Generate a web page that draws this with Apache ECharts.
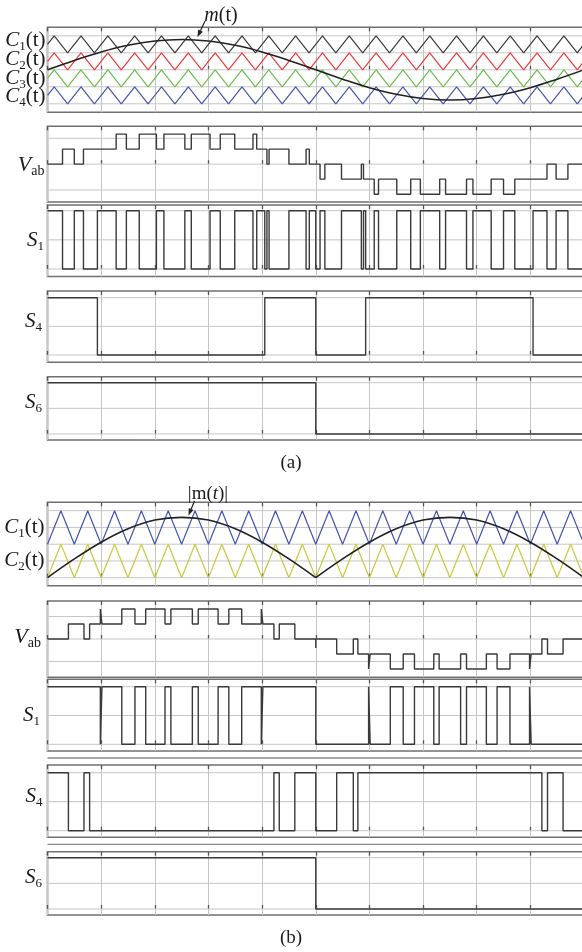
<!DOCTYPE html>
<html><head><meta charset="utf-8">
<script src="https://cdn.jsdelivr.net/npm/echarts@6/dist/echarts.min.js"></script>
<style>html,body{margin:0;padding:0;background:#fff}#c{width:582px;height:952px}</style>
</head><body><div id="c"></div>
<script>
// ---------- DATA (x in grid divisions 0..10) ----------
// (a) phase-disposition carriers: vertex times and levels
const carrierTimesA = [0,0.125,0.375,0.625,0.875,1.125,1.375,1.625,1.875,2.125,2.375,2.625,2.875,3.125,3.375,3.625,3.875,4.125,4.375,4.625,4.875,5.125,5.375,5.625,5.875,6.125,6.375,6.625,6.875,7.125,7.375,7.625,7.875,8.125,8.375,8.625,8.875,9.125,9.375,9.625,9.875,10];
const c1A = [1.5,2,1,2,1,2,1,2,1,2,1,2,1,2,1,2,1,2,1,2,1,2,1,2,1,2,1,2,1,2,1,2,1,2,1,2,1,2,1,2,1,1.5];
const c2A = [0.5,1,0,1,0,1,0,1,0,1,0,1,0,1,0,1,0,1,0,1,0,1,0,1,0,1,0,1,0,1,0,1,0,1,0,1,0,1,0,1,0,0.5];
const c3A = [-0.5,0,-1,0,-1,0,-1,0,-1,0,-1,0,-1,0,-1,0,-1,0,-1,0,-1,0,-1,0,-1,0,-1,0,-1,0,-1,0,-1,0,-1,0,-1,0,-1,0,-1,-0.5];
const c4A = [-1.5,-1,-2,-1,-2,-1,-2,-1,-2,-1,-2,-1,-2,-1,-2,-1,-2,-1,-2,-1,-2,-1,-2,-1,-2,-1,-2,-1,-2,-1,-2,-1,-2,-1,-2,-1,-2,-1,-2,-1,-2,-1.5];
// (a) modulating wave m(t)
const mTimesA = [0,0.5,1,1.5,2,2.5,3,3.5,4,4.5,5,5.5,6,6.5,7,7.5,8,8.5,9,9.5,10];
const mA = [0,0.55,1.05,1.44,1.69,1.78,1.69,1.44,1.05,0.55,0,-0.55,-1.05,-1.44,-1.69,-1.78,-1.69,-1.44,-1.05,-0.55,0];
// (a) step waveforms: [time, level]
const vabA = [[0,0],[0.28,1],[0.50,0],[0.67,1],[1.28,2],[1.47,1],[1.71,2],[2.03,1],[2.17,2],[2.56,1],[2.68,2],[3.03,1],[3.22,2],[3.49,1],[3.83,2],[3.90,1],[4.09,0],[4.13,1],[4.50,0],[4.82,1],[4.88,0],[5.08,-1],[5.17,0],[5.48,-1],[5.85,0],[5.89,-1],[6.09,-2],[6.17,-1],[6.51,-2],[6.77,-1],[6.95,-2],[7.31,-1],[7.42,-2],[7.81,-1],[7.93,-2],[8.27,-1],[8.50,-2],[8.71,-1],[9.31,0],[9.48,-1],[9.70,0],[10,0]];
const s1A = [[0,1],[0.28,0],[0.50,1],[0.67,0],[0.93,1],[1.28,0],[1.47,1],[1.71,0],[2.03,1],[2.17,0],[2.56,1],[2.68,0],[3.03,1],[3.22,0],[3.49,1],[3.83,0],[3.90,1],[4.05,0],[4.09,1],[4.13,0],[4.50,1],[4.82,0],[4.88,1],[5.00,0],[5.08,1],[5.17,0],[5.48,1],[5.85,0],[5.89,1],[5.93,0],[6.09,1],[6.17,0],[6.51,1],[6.77,0],[6.95,1],[7.31,0],[7.42,1],[7.81,0],[7.93,1],[8.27,0],[8.50,1],[8.71,0],[9.05,1],[9.31,0],[9.48,1],[9.70,0],[10,0]];
const s4A = [[0,1],[0.93,0],[4.05,1],[5.00,0],[5.93,1],[9.05,0],[10,0]];
const s6A = [[0,1],[5,0],[10,0]];
// (b) carriers
const carrierTimesB = [0,0.25,0.5,0.75,1,1.25,1.5,1.75,2,2.25,2.5,2.75,3,3.25,3.5,3.75,4,4.25,4.5,4.75,5,5.25,5.5,5.75,6,6.25,6.5,6.75,7,7.25,7.5,7.75,8,8.25,8.5,8.75,9,9.25,9.5,9.75,10];
const c1B = [0.5,1,0.5,1,0.5,1,0.5,1,0.5,1,0.5,1,0.5,1,0.5,1,0.5,1,0.5,1,0.5,1,0.5,1,0.5,1,0.5,1,0.5,1,0.5,1,0.5,1,0.5,1,0.5,1,0.5,1,0.5];
const c2B = [0,0.5,0,0.5,0,0.5,0,0.5,0,0.5,0,0.5,0,0.5,0,0.5,0,0.5,0,0.5,0,0.5,0,0.5,0,0.5,0,0.5,0,0.5,0,0.5,0,0.5,0,0.5,0,0.5,0,0.5,0];
// (b) |m(t)|, two half cycles
const mTimesB1 = [0,0.5,1,1.5,2,2.5,3,3.5,4,4.5,5];
const mB1 = [0,0.28,0.53,0.73,0.86,0.9,0.86,0.73,0.53,0.28,0];
const mTimesB2 = [5,5.5,6,6.5,7,7.5,8,8.5,9,9.5,10];
const mB2 = [0,0.28,0.53,0.73,0.86,0.9,0.86,0.73,0.53,0.28,0];
// (b) step waveforms
const vabB = [[0,0],[0.39,1],[0.68,0],[0.785,1],[0.985,2],[1.015,1],[1.385,2],[1.63,1],[1.83,2],[2.19,1],[2.30,2],[2.70,1],[2.81,2],[3.18,1],[3.38,2],[3.62,1],[3.985,2],[4.015,1],[4.22,0],[4.32,1],[4.61,0],[5.0,-0.6],[5.0,0],[5.39,-1],[5.70,0],[5.785,-1],[5.985,-2],[6.015,-1],[6.39,-2],[6.63,-1],[6.84,-2],[7.20,-1],[7.30,-2],[7.70,-1],[7.81,-2],[8.18,-1],[8.38,-2],[8.62,-1],[8.985,-2],[9.015,-1],[9.215,0],[9.32,-1],[9.61,0],[10,0]];
const s1B = [[0,1],[0.985,0],[1.015,1],[1.385,0],[1.63,1],[1.83,0],[2.19,1],[2.30,0],[2.70,1],[2.81,0],[3.18,1],[3.38,0],[3.62,1],[3.985,0],[4.015,1],[5.0,0],[5.985,1],[6.015,0],[6.39,1],[6.63,0],[6.84,1],[7.20,0],[7.30,1],[7.70,0],[7.81,1],[8.18,0],[8.38,1],[8.62,0],[8.985,1],[9.015,0],[10,0]];
const s4B = [[0,1],[0.39,0],[0.68,1],[0.785,0],[4.22,1],[4.32,0],[4.61,1],[5.0,0],[5.39,1],[5.70,0],[5.785,1],[9.215,0],[9.32,1],[9.61,0],[10,0]];
const s6B = [[0,1],[5,0],[10,0]];
// horizontal grid-line positions per panel
const hGridA1 = [-2,-1,0,1,2];
const hGridVabA = [-1.72,0,1.72];
const hGridSw = [0,0.5,1];
const hGridB1 = [0,0.25,0.5,0.75,1];
const hGridVabB = [-1.5,0,1.5];

// ---------- LAYOUT ----------
const SERIF = '"Liberation Serif","DejaVu Serif",serif';
const GL = 47.5, GW = 536.5;
const panels = [
  {top:27.3, h:85,   min:-2.5,   max:2.5,   hl:hGridA1},
  {top:126.3,h:75.7, min:-2.52,  max:2.52,  hl:hGridVabA},
  {top:205,  h:71.5, min:-0.129, max:1.098, hl:hGridSw},
  {top:291,  h:71.3, min:-0.127, max:1.117, hl:hGridSw},
  {top:376.7,h:63.3, min:-0.117, max:1.117, hl:hGridSw},
  {top:502.3,h:83.4, min:-0.119, max:1.125, hl:hGridB1},
  {top:601,  h:76.3, min:-2.55,  max:2.53,  hl:hGridVabB},
  {top:679.3,h:71.7, min:-0.116, max:1.128, hl:hGridSw},
  {top:765,  h:72.3, min:-0.114, max:1.133, hl:hGridSw},
  {top:851.7,h:63.3, min:-0.117, max:1.117, hl:hGridSw}
];

const grid = [], xAxis = [], yAxis = [], series = [];
panels.forEach((p, g) => {
  grid.push({left:GL, width:GW, top:p.top, height:p.h, show:true, borderColor:'#707070', borderWidth:1.6,
    backgroundColor:'transparent', containLabel:false, outerBoundsMode:'none'});
  const tick = {show:true, inside:true, length:4, lineStyle:{color:'#555', width:1.3}};
  xAxis.push({gridIndex:g, type:'value', min:0, max:10, interval:1, position:'bottom',
    axisLine:{show:false}, axisLabel:{show:false}, axisTick:tick,
    splitLine:{show:true, lineStyle:{color:'#c6c6c6', width:1}}});
  xAxis.push({gridIndex:g, type:'value', min:0, max:10, interval:1, position:'top',
    axisLine:{show:false}, axisLabel:{show:false}, axisTick:tick, splitLine:{show:false}});
  yAxis.push({gridIndex:g, type:'value', min:p.min, max:p.max,
    axisLine:{show:false}, axisLabel:{show:false}, axisTick:{show:false}, splitLine:{show:false}});
  p.hl.forEach(v => series.push({type:'line', xAxisIndex:2*g, yAxisIndex:g, data:[[0,v],[10,v]],
    symbol:'none', silent:true, z:1, lineStyle:{color:'#c6c6c6', width:1}}));
});

function zip(ts, vs){ return ts.map((t,i)=>[t, vs[i]]); }
function carrier(g, ts, vs, color){
  series.push({type:'line', xAxisIndex:2*g, yAxisIndex:g, data:zip(ts,vs), symbol:'none', silent:true, z:2,
    lineStyle:{color:color, width:1.2}});
}
function smoothLine(g, ts, vs){
  series.push({type:'line', xAxisIndex:2*g, yAxisIndex:g, data:zip(ts,vs), symbol:'none', silent:true, z:4,
    smooth:0.4, lineStyle:{color:'#222', width:1.6}});
}
function stepLine(g, d){
  series.push({type:'line', xAxisIndex:2*g, yAxisIndex:g, data:d, step:'end', symbol:'none', silent:true, z:3,
    lineStyle:{color:'#3a3a3a', width:1.4}});
}

carrier(0, carrierTimesA, c1A, '#3c3c3c');
carrier(0, carrierTimesA, c2A, '#ee3a3a');
carrier(0, carrierTimesA, c3A, '#6cbf4a');
carrier(0, carrierTimesA, c4A, '#4657b0');
smoothLine(0, mTimesA, mA);
stepLine(1, vabA); stepLine(2, s1A); stepLine(3, s4A); stepLine(4, s6A);
carrier(5, carrierTimesB, c1B, '#4254b4');
carrier(5, carrierTimesB, c2B, '#c8cb3c');
smoothLine(5, mTimesB1, mB1);
smoothLine(5, mTimesB2, mB2);
stepLine(6, vabB); stepLine(7, s1B); stepLine(8, s4B); stepLine(9, s6B);

// ---------- TEXT / ANNOTATIONS ----------
function lbl(x, y, main, sub, rest, size, subSize){
  size = size || 21; subSize = subSize || 13;
  let t = '{m|'+main+'}' + (sub ? '{s|'+sub+'}' : '') + (rest ? '{r|'+rest+'}' : '');
  return {type:'text', x:x, y:y, silent:true, z:100, style:{
    text:t, align:'right', verticalAlign:'middle', textAlign:'right', textVerticalAlign:'middle',
    rich:{
      m:{font:'italic '+size+'px '+SERIF, fill:'#1a1a1a', lineHeight:26, verticalAlign:'middle'},
      s:{font:subSize+'px '+SERIF, fill:'#1a1a1a', lineHeight:14, verticalAlign:'bottom'},
      r:{font:size+'px '+SERIF, fill:'#1a1a1a', lineHeight:26, verticalAlign:'middle'}
    }}};
}
function arrow(x1, y1, x2, y2){
  const dx = x2-x1, dy = y2-y1, L = Math.sqrt(dx*dx+dy*dy), ux = dx/L, uy = dy/L;
  const hl = 7, hw = 2.6, bx = x2-ux*hl, by = y2-uy*hl;
  return [
    {type:'line', silent:true, z:100, shape:{x1:x1,y1:y1,x2:bx,y2:by}, style:{stroke:'#222', lineWidth:1.2}},
    {type:'polygon', silent:true, z:100, shape:{points:[[x2,y2],[bx-uy*hw,by+ux*hw],[bx+uy*hw,by-ux*hw]]}, style:{fill:'#222'}}
  ];
}
const elements = [
  lbl(45.5, 40.5, 'C', '1', '(t)'),
  lbl(45.5, 59.5, 'C', '2', '(t)'),
  lbl(45.5, 78, 'C', '3', '(t)'),
  lbl(45.5, 96, 'C', '4', '(t)'),
  lbl(44.5, 165, 'V', 'ab', '', 22, 14),
  lbl(44, 240, 'S', '1', ''),
  lbl(42, 321, 'S', '4', ''),
  lbl(42, 402, 'S', '6', ''),
  lbl(44.5, 527.5, 'C', '1', '(t)'),
  lbl(44.5, 560.5, 'C', '2', '(t)'),
  lbl(41, 637.5, 'V', 'ab', '', 22, 14),
  lbl(40, 715, 'S', '1', ''),
  lbl(42.5, 796, 'S', '4', ''),
  lbl(42, 877.5, 'S', '6', ''),
  {type:'text', x:221, y:16, silent:true, z:100, style:{text:'{i|m}{r|(t)}', align:'center', verticalAlign:'middle',
    textAlign:'center', textVerticalAlign:'middle',
    rich:{i:{font:'italic 20px '+SERIF, fill:'#1a1a1a'}, r:{font:'20px '+SERIF, fill:'#1a1a1a'}}}},
  {type:'text', x:208, y:494, silent:true, z:100, style:{text:'{r||m(}{i|t}{r|)|}', align:'center', verticalAlign:'middle',
    textAlign:'center', textVerticalAlign:'middle',
    rich:{i:{font:'italic 19px '+SERIF, fill:'#1a1a1a'}, r:{font:'19px '+SERIF, fill:'#1a1a1a'}}}},
  {type:'text', x:291, y:463, silent:true, style:{text:'(a)', font:'19px '+SERIF, fill:'#1a1a1a',
    align:'center', verticalAlign:'middle', textAlign:'center', textVerticalAlign:'middle'}},
  {type:'text', x:291, y:938, silent:true, style:{text:'(b)', font:'19px '+SERIF, fill:'#1a1a1a',
    align:'center', verticalAlign:'middle', textAlign:'center', textVerticalAlign:'middle'}},
  {type:'line', silent:true, shape:{x1:GL, y1:758, x2:584, y2:758}, style:{stroke:'#8a8a8a', lineWidth:1.3}},
  {type:'line', silent:true, shape:{x1:GL, y1:844.3, x2:584, y2:844.3}, style:{stroke:'#8a8a8a', lineWidth:1.3}}
].concat(arrow(205, 21, 197.5, 37)).concat(arrow(194.5, 501, 188.5, 515.5));

const chart = echarts.init(document.getElementById('c'), null, {renderer:'canvas', width:582, height:952});
chart.setOption({
  animation:false,
  backgroundColor:'#ffffff',
  grid:grid, xAxis:xAxis, yAxis:yAxis, series:series,
  graphic:{elements:elements}
});
</script></body></html>
